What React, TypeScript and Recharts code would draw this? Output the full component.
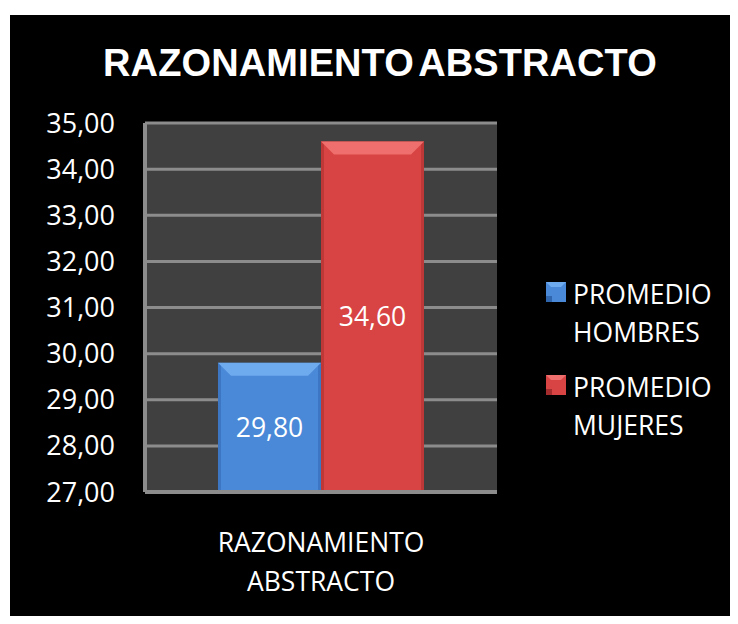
import { BarChart, Bar, XAxis, YAxis, CartesianGrid, LabelList } from "recharts";

// datos del gráfico
const categories = ["RAZONAMIENTO ABSTRACTO"];
const hombres = [29.8];
const mujeres = [34.6];
const yTicks = [27, 28, 29, 30, 31, 32, 33, 34, 35];

const seriesNames = { hombres: "PROMEDIO HOMBRES", mujeres: "PROMEDIO MUJERES" };

const data = categories.map((c, i) => ({ name: c, hombres: hombres[i], mujeres: mujeres[i] }));

const FONT = "'Open Sans', sans-serif";
const comma = (v: number) => v.toFixed(2).replace(".", ",");

const colors = {
  hombres: { base: "#4a89d8", light: "#6eaaee", dark: "#2f66ad" },
  mujeres: { base: "#d84443", light: "#ee6f6d", dark: "#a42c2c" },
};

function BevelBar(props: any) {
  const { x, y, width, height, base, light, dark } = props;
  if (!height || height <= 0) return null;
  const b = 13;
  return (
    <g>
      <rect x={x} y={y} width={width} height={height} fill={base} />
      <rect x={x} y={y} width={3} height={height} fill={dark} opacity={0.5} />
      <rect x={x + width - 3} y={y} width={3} height={height} fill={dark} opacity={0.5} />
      <polygon
        points={`${x},${y} ${x + width},${y} ${x + width - b},${y + b} ${x + b},${y + b}`}
        fill={light}
      />
    </g>
  );
}

function XTick(props: any) {
  const { x, y, payload } = props;
  const words = String(payload.value).split(" ");
  return (
    <text x={x} y={y} textAnchor="middle" fill="#fff" fontFamily={FONT} fontSize={26.5}>
      <tspan x={x} dy={60}>{words[0]}</tspan>
      <tspan x={x} dy={39}>{words[1]}</tspan>
    </text>
  );
}

// leyenda propia (la de Recharts reserva espacio y encoge el área del gráfico)
function LegendBox() {
  const keys = ["hombres", "mujeres"] as const;
  return (
    <div
      style={{
        position: "absolute",
        left: 546,
        top: 275,
        fontFamily: FONT,
        fontSize: 26.5,
        lineHeight: "38px",
        color: "#fff",
      }}
    >
      {keys.map((k, i) => {
        const c = colors[k];
        const [a, b] = seriesNames[k].split(" ");
        return (
          <div key={k} style={{ display: "flex", marginBottom: i === 0 ? 17 : 0 }}>
            <svg width={20} height={20} style={{ marginTop: 7, marginRight: 7, flex: "none" }}>
              <rect x={0} y={0} width={20} height={20} fill={c.base} />
              <polygon points="0,0 20,0 15,5 5,5" fill={c.light} />
              <rect x={0} y={14} width={6} height={6} fill={c.dark} />
            </svg>
            <div>
              <div>{a}</div>
              <div>{b}</div>
            </div>
          </div>
        );
      })}
    </div>
  );
}

export default function App() {
  return (
    <div style={{ position: "relative", width: 738, height: 624, background: "#fff", margin: -8 }}>
      <div style={{ position: "absolute", left: 10, top: 15, width: 728, height: 609, background: "#000" }} />
      <div
        style={{
          position: "absolute",
          left: 11,
          top: 44,
          width: 738,
          textAlign: "center",
          fontFamily: "'Liberation Sans', Arial, sans-serif",
          fontWeight: "bold",
          fontSize: 38,
          lineHeight: "38px",
          color: "#fff",
          letterSpacing: 0.1,
          wordSpacing: -5,
        }}
      >
        RAZONAMIENTO ABSTRACTO
      </div>
      <div style={{ position: "absolute", left: 0, top: 0 }}>
        <BarChart
          width={738}
          height={624}
          data={data}
          margin={{ top: 123, right: 241, bottom: 0, left: 0 }}
          barCategoryGap={73}
          barGap={0}
        >
          <CartesianGrid vertical={false} fill="#404040" stroke="#8c8c8c" strokeWidth={3} strokeOpacity={1} />
          <XAxis
            dataKey="name"
            height={132}
            tickSize={0}
            tickMargin={0}
            tick={<XTick />}
            axisLine={{ stroke: "#8c8c8c", strokeWidth: 4 }}
            tickLine={false}
          />
          <YAxis
            width={145}
            domain={[27, 35]}
            ticks={yTicks}
            interval={0}
            tickFormatter={comma}
            tickSize={0}
            tickMargin={30}
            tickLine={false}
            axisLine={{ stroke: "#8c8c8c", strokeWidth: 4 }}
            tick={{ fill: "#fff", fontFamily: FONT, fontSize: 27 }}
            allowDataOverflow
          />
          <Bar
            dataKey="hombres"
            name={seriesNames.hombres}
            fill={colors.hombres.base}
            isAnimationActive={false}
            shape={(p: any) => <BevelBar {...p} {...colors.hombres} />}
          >
            <LabelList dataKey="hombres" position="center" formatter={(v: any) => comma(Number(v))} fill="#fff" fontFamily={FONT} fontSize={26.5} />
          </Bar>
          <Bar
            dataKey="mujeres"
            name={seriesNames.mujeres}
            fill={colors.mujeres.base}
            isAnimationActive={false}
            shape={(p: any) => <BevelBar {...p} {...colors.mujeres} />}
          >
            <LabelList dataKey="mujeres" position="center" formatter={(v: any) => comma(Number(v))} fill="#fff" fontFamily={FONT} fontSize={26.5} />
          </Bar>
        </BarChart>
      </div>
      <LegendBox />
    </div>
  );
}
